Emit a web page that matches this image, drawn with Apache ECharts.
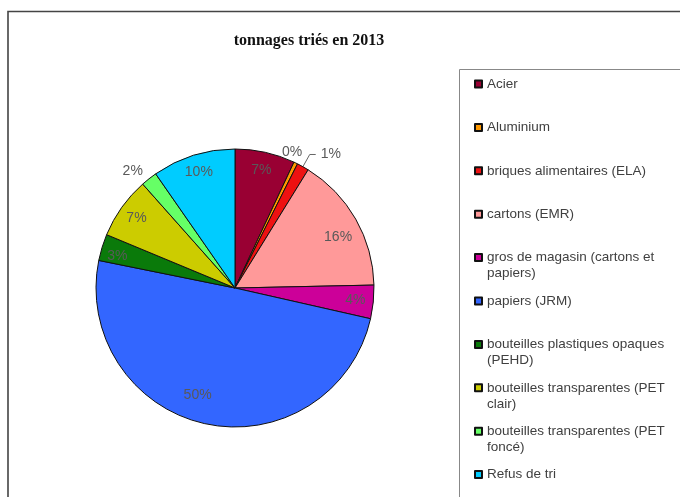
<!DOCTYPE html>
<html lang="fr">
<head>
  <meta charset="UTF-8">
  <title>tonnages triés en 2013</title>
  <script src="https://cdn.jsdelivr.net/npm/echarts@6/dist/echarts.min.js"></script>
  <style>
    html, body { margin: 0; padding: 0; background: #fff; }
    #pie_chart { width: 680px; height: 497px; }
  </style>
</head>
<body>
<div id="pie_chart"></div>
<script>
  // données (en %)
  var categories = ['Acier', 'Aluminium', 'briques alimentaires (ELA)', 'cartons (EMR)',
    'gros de magasin (cartons et papiers)', 'papiers (JRM)', 'bouteilles plastiques opaques (PEHD)',
    'bouteilles transparentes (PET clair)', 'bouteilles transparentes (PET foncé)', 'Refus de tri'];
  var values = [7.0, 0.45, 1.4, 15.9, 3.9, 49.8, 3.1, 7.2, 1.9, 9.7];
  var colors = ['#990033', '#ff9900', '#ee1111', '#ff9999', '#cc0099',
    '#3366ff', '#0a7a0a', '#cccc00', '#66ff66', '#00ccff'];
  // libellés de légende sur deux lignes
  var legendLines = {
    'gros de magasin (cartons et papiers)': ['gros de magasin (cartons et', 'papiers)'],
    'bouteilles plastiques opaques (PEHD)': ['bouteilles plastiques opaques', '(PEHD)'],
    'bouteilles transparentes (PET clair)': ['bouteilles transparentes (PET', 'clair)'],
    'bouteilles transparentes (PET foncé)': ['bouteilles transparentes (PET', 'foncé)']
  };
  var outsideNames = ['briques alimentaires (ELA)', 'bouteilles transparentes (PET foncé)'];
  var farNames = ['Aluminium'];
  // petits décalages des étiquettes (comme dans Excel)
  var labelShift = {
    'cartons (EMR)': [-2, 9],
    'papiers (JRM)': [-12, -11],
    'bouteilles plastiques opaques (PEHD)': [-2, 4],
    'bouteilles transparentes (PET foncé)': [5, 0]
  };

  var chart = echarts.init(document.getElementById('pie_chart'), null, { renderer: 'canvas' });

  var labelFmt = function (p) { return Math.round(p.percent) + '%'; };
  var hidden = { color: 'rgba(0,0,0,0)', borderWidth: 0 };

  var pieData = categories.map(function (name, i) {
    return { name: name, value: values[i], itemStyle: { color: colors[i] } };
  });
  var labelData = categories.map(function (name, i) {
    var outside = outsideNames.indexOf(name) >= 0;
    var item = {
      name: name,
      value: values[i],
      itemStyle: hidden,
      label: { show: farNames.indexOf(name) < 0, position: outside ? 'outside' : 'inside' },
      labelLine: { show: name === 'briques alimentaires (ELA)' }
    };
    if (labelShift[name]) item.label.offset = labelShift[name];
    if (name === 'briques alimentaires (ELA)') item.labelLine.length = 14;
    if (name === 'bouteilles transparentes (PET foncé)') { item.labelLine.length = 10; item.labelLine.length2 = 0; }
    return item;
  });
  var farData = categories.map(function (name, i) {
    return {
      name: name,
      value: values[i],
      itemStyle: hidden,
      label: { show: farNames.indexOf(name) >= 0 }
    };
  });

  var option = {
    backgroundColor: '#fff',
    animation: false,
    title: {
      text: 'tonnages triés en 2013',
      left: 304,
      top: 28,
      textAlign: 'center',
      textStyle: { fontFamily: 'Liberation Serif', fontWeight: 'bold', fontSize: 16, color: '#111' }
    },
    graphic: [
      { type: 'rect', shape: { x: 8, y: 11.5, width: 700, height: 520 }, style: { fill: 'none', stroke: '#444', lineWidth: 1.6 }, silent: true },
      { type: 'rect', shape: { x: 459.5, y: 69.5, width: 300, height: 500 }, style: { fill: 'none', stroke: '#888', lineWidth: 1 }, silent: true }
    ],
    legend: {
      orient: 'vertical',
      left: 474,
      top: 60,
      height: 480,
      padding: 0,
      itemGap: -4.6,
      itemWidth: 7,
      itemHeight: 7,
      icon: 'rect',
      selectedMode: false,
      data: categories,
      textStyle: { fontFamily: 'Liberation Sans', fontSize: 13.5, color: '#404040', lineHeight: 16 },
      formatter: function (name) {
        var l = legendLines[name];
        return l ? '\n' + l[0] + '\n' + l[1] : '\n' + name + '\n';
      }
    },
    series: [
      {
        name: 'tonnages',
        type: 'pie',
        center: [235, 288],
        radius: [0, 139],
        startAngle: 90,
        clockwise: true,
        silent: true,
        itemStyle: { borderColor: '#111', borderWidth: 1 },
        label: { show: false },
        labelLine: { show: false },
        data: pieData
      },
      {
        name: 'labels',
        type: 'pie',
        center: [235, 288],
        radius: [97, 139],
        startAngle: 90,
        clockwise: true,
        silent: true,
        percentPrecision: 2,
        avoidLabelOverlap: false,
        label: {
          show: true,
          fontFamily: 'Liberation Sans',
          fontSize: 14,
          color: '#595959',
          formatter: labelFmt
        },
        labelLine: { length: 6, length2: 6, lineStyle: { color: '#666', width: 1 } },
        data: labelData
      },
      {
        name: 'labels-far',
        type: 'pie',
        center: [235, 288],
        radius: [145, 161],
        startAngle: 90,
        clockwise: true,
        silent: true,
        percentPrecision: 2,
        avoidLabelOverlap: false,
        label: {
          position: 'inside',
          fontFamily: 'Liberation Sans',
          fontSize: 14,
          color: '#595959',
          offset: [-11, 4],
          formatter: labelFmt
        },
        labelLine: { show: false },
        data: farData
      }
    ]
  };
  chart.setOption(option);
</script>
</body>
</html>
